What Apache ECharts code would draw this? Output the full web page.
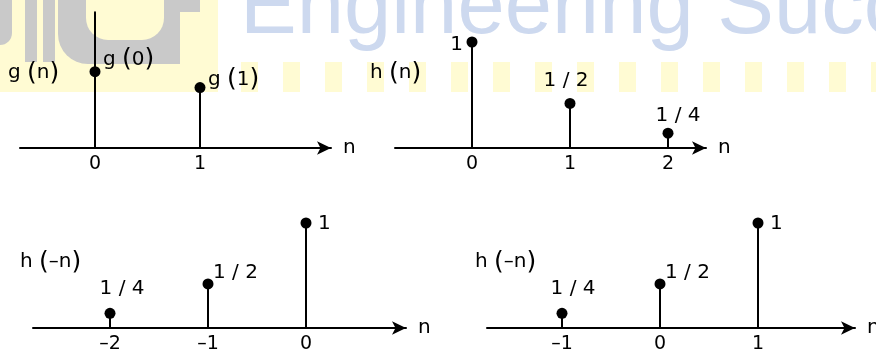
<!DOCTYPE html>
<html>
<head>
<meta charset="utf-8">
<style>html,body{margin:0;padding:0;background:#fff}#main{width:876px;height:352px}</style>
<script src="https://cdn.jsdelivr.net/npm/echarts@6/dist/echarts.min.js"></script>
</head>
<body>
<div id="main"></div>
<script>
// sample index n and drawn stem height (1 = height of the "1" stems)
var gN = [0, 1];
var gVal = [0.72, 0.57];
var gText = ['g (0)', 'g (1)'];

var hN = [0, 1, 2];
var hVal = [1, 0.42, 0.14];
var hText = ['1', '1 / 2', '1 / 4'];

var hrN = [-2, -1, 0];
var hrVal = [0.14, 0.42, 1];
var hrText = ['1 / 4', '1 / 2', '1'];

var hsN = [-1, 0, 1];
var hsVal = [0.14, 0.42, 1];
var hsText = ['1 / 4', '1 / 2', '1'];

var panelNames = ['g (n)', 'h (n)', 'h (\u2013n)', 'h (\u2013n)'];
var tickValues = [[0, 1], [0, 1, 2], [-2, -1, 0], [-1, 0, 1]];

// layout: axis start px, axis end px, px of n=0, px per n, axis y px, px per unit
var panels = [
    [20, 331, 95, 105, 148, 106],
    [395, 706, 472, 98, 148, 106],
    [33, 406, 306, 98, 328, 105],
    [487, 855, 660, 98, 328, 105]
];
// label offsets from the dot: dx, dy, align
var places = [
    [[8, -12, 'left'], [8, -8, 'left']],
    [[-9, 3, 'right'], [-4, -23, 'center'], [10, -17, 'center']],
    [[12, -25, 'center'], [5, -11, 'left'], [12, 1, 'left']],
    [[11, -25, 'center'], [5, -11, 'left'], [12, 1, 'left']]
];
var yMax = 1.28;
var FONT = 'DejaVu Sans';
var rich = {
    t: { fontSize: 20, fontFamily: FONT, fill: '#000' },
    p: { fontSize: 25, fontFamily: FONT, fill: '#000' }
};
// big brackets like the typeset original
function richText(s) {
    return s.split(/([()])/).filter(function (x) { return x; }).map(function (x) {
        return (x === '(' || x === ')') ? '{p|' + x + '}' : '{t|' + x + '}';
    }).join('');
}

var seriesData = [[gN, gVal, gText], [hN, hVal, hText], [hrN, hrVal, hrText], [hsN, hsVal, hsText]];

function stemItem(labels, pl) {
    return function (params, api) {
        var i = params.dataIndex;
        var base = api.coord([api.value(0), 0]);
        var top = api.coord([api.value(0), api.value(1)]);
        var p = pl[i];
        return {
            type: 'group',
            children: [
                { type: 'line', shape: { x1: base[0], y1: base[1], x2: top[0], y2: top[1] }, style: { stroke: '#000', lineWidth: 2 } },
                { type: 'circle', shape: { cx: top[0], cy: top[1], r: 5.5 }, style: { fill: '#000' } },
                { type: 'text', x: top[0] + p[0], y: top[1] + p[1], style: { text: richText(labels[i]), rich: rich, fill: '#000', fontSize: 20, fontFamily: FONT, align: p[2], verticalAlign: 'middle' } }
            ]
        };
    };
}

var grids = [], xAxes = [], yAxes = [], series = [];
panels.forEach(function (p, k) {
    grids.push({ left: p[0], top: p[4] - yMax * p[5], width: p[1] - p[0], height: yMax * p[5], containLabel: false, outerBoundsMode: 'none' });
    xAxes.push({
        type: 'value', gridIndex: k, z: 5,
        min: -(p[2] - p[0]) / p[3], max: (p[1] - p[2]) / p[3],
        name: 'n', nameLocation: 'end', nameGap: 12,
        nameTextStyle: { color: '#000', fontSize: 20, fontFamily: FONT, verticalAlign: 'middle', padding: [0, 0, 3, 0] },
        axisLine: { onZero: false, symbol: ['none', 'arrow'], symbolSize: [10, 14], lineStyle: { color: '#000', width: 2 } },
        axisTick: { show: false },
        splitLine: { show: false },
        axisLabel: {
            customValues: tickValues[k], margin: 7, color: '#000', fontSize: 19, fontFamily: FONT,
            formatter: function (v) { return String(v).replace('-', '\u2013'); }
        }
    });
    yAxes.push({
        type: 'value', gridIndex: k, z: 5, min: 0, max: yMax,
        show: k === 0,
        axisLine: { show: true, onZero: true, lineStyle: { color: '#000', width: 2 } },
        axisTick: { show: false }, axisLabel: { show: false }, splitLine: { show: false }
    });
    var d = seriesData[k];
    series.push({
        type: 'custom', xAxisIndex: k, yAxisIndex: k, z: 10, clip: false,
        renderItem: stemItem(d[2], places[k]),
        data: d[0].map(function (n, i) { return [n, d[1][i]]; })
    });
});

// watermark behind the plots
var yel = '#fffbd3', gry = '#c9c9c9';
var wm = [
    { type: 'rect', shape: { x: 0, y: 0, width: 218, height: 92 }, style: { fill: yel } },
    { type: 'rect', shape: { x: 0, y: 0, width: 12, height: 45, r: [0, 0, 12, 0] }, style: { fill: gry } },
    { type: 'rect', shape: { x: 25, y: 0, width: 12, height: 62 }, style: { fill: gry } },
    { type: 'rect', shape: { x: 43, y: 0, width: 12, height: 62 }, style: { fill: gry } },
    { type: 'rect', shape: { x: 58, y: 0, width: 122, height: 64, r: [0, 0, 0, 30] }, style: { fill: gry } },
    { type: 'rect', shape: { x: 86, y: 0, width: 78, height: 40, r: [0, 0, 22, 22] }, style: { fill: yel } },
    { type: 'rect', shape: { x: 164, y: 0, width: 36, height: 12 }, style: { fill: gry } },
    { type: 'text', x: 240, y: -33, style: { text: 'Engineering Success', fill: '#cdd9ef', fontSize: 85, fontFamily: 'Liberation Sans', verticalAlign: 'top' } }
];
for (var x = 241; x < 876; x += 42) {
    wm.push({ type: 'rect', shape: { x: x, y: 62, width: 17, height: 30 }, style: { fill: yel } });
}
wm.forEach(function (g) { g.z = 1; g.silent = true; });

var namePos = [[8, 73], [370, 73], [20, 262], [475, 262]];
panelNames.forEach(function (t, k) {
    wm.push({ type: 'text', z: 6, x: namePos[k][0], y: namePos[k][1], style: { text: richText(t), rich: rich, fill: '#000', fontSize: 20, fontFamily: FONT, verticalAlign: 'middle' } });
});

var myChart = echarts.init(document.getElementById('main'));
myChart.setOption({
    backgroundColor: '#fff',
    animation: false,
    graphic: wm,
    grid: grids,
    xAxis: xAxes,
    yAxis: yAxes,
    series: series
});
</script>
</body>
</html>
